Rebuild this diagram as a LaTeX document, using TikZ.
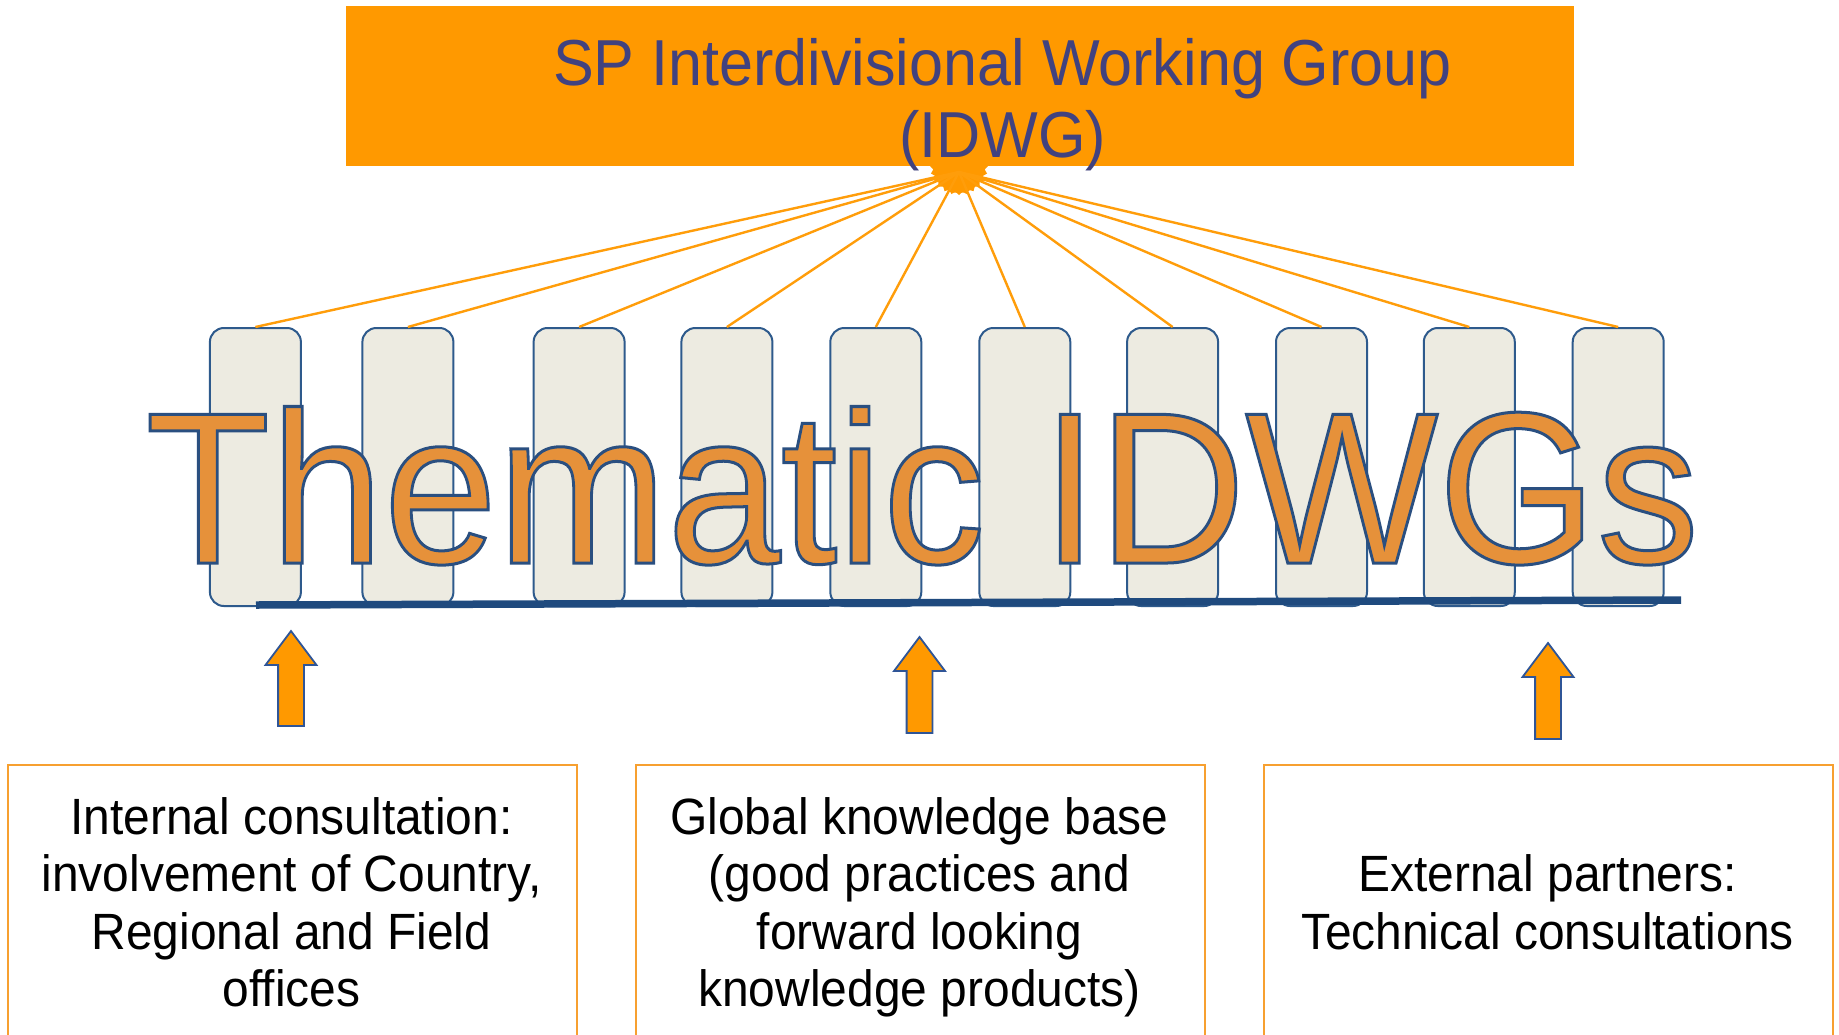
\documentclass[tikz,border=0pt]{standalone}
\usepackage{fontspec}
\setmainfont{Liberation Sans}
\usepackage{graphicx}
\usetikzlibrary{shapes.geometric}
\definecolor{boxorange}{HTML}{FF9900}
\definecolor{spokeorange}{HTML}{FF9D0A}
\definecolor{titleblue}{HTML}{41427F}
\definecolor{barfill}{HTML}{EDEBE1}
\definecolor{bardraw}{HTML}{2E5A8C}
\definecolor{thmfill}{HTML}{E6913A}
\definecolor{lineblue}{HTML}{1F4A7E}
\definecolor{arrowdraw}{HTML}{2F5597}
\definecolor{btmdraw}{HTML}{F7A030}
\newcommand\cx[1]{\scalebox{0.94}[1]{#1}}
\begin{document}
\begin{tikzpicture}[x=1pt,y=-1pt,
  topbox/.style={fill=boxorange, draw=none, inner sep=0pt},
  barbox/.style={fill=barfill, draw=bardraw, line width=2pt, rounded corners=14pt,
     minimum width=91pt, minimum height=278pt, inner sep=0pt},
  spoke/.style={draw=spokeorange, line width=2.4pt},
  blueline/.style={draw=lineblue, line width=7.5pt},
  uparrow/.style={fill=boxorange, draw=arrowdraw, line width=1.8pt, line join=miter},
  btmbox/.style={draw=btmdraw, line width=2pt, fill=white, inner sep=0pt,
     minimum width=569pt, minimum height=290pt, anchor=north west},
  btmtext/.style={anchor=base, inner sep=0pt, text=black,
     font=\fontsize{51}{57.5}\selectfont},
  titletext/.style={anchor=base, inner sep=0pt, text=titleblue,
     font=\fontsize{65}{72.5}\selectfont}
]
\useasboundingbox (0,0) rectangle (1839,1034);
\fill[white] (0,0) rectangle (1839,1034);

% top box
\node[topbox, minimum width=1228pt, minimum height=160pt, anchor=north west] (top) at (346,6) {};
\node[ellipse, fill=boxorange, minimum width=50pt, minimum height=54pt, inner sep=0pt] (blob) at (959,166) {};
\node[star, star points=24, star point ratio=1.12, minimum size=58pt, fill=boxorange, inner sep=0pt] (blobedge) at (959,166) {};

% bars
\foreach \i/\l in {1/209.9, 2/362.4, 3/533.6, 4/681.4, 5/830.3, 6/979.3, 7/1127.1, 8/1276.0, 9/1423.8, 10/1572.7}{
  \node[barbox] (b\i) at (\l+45.5,467) {};
}
\coordinate (hub) at (959,172);
\foreach \i in {1,...,10}{
  \draw[spoke] (hub) -- (b\i.north);
}

% title text
\node[titletext] (title) at (1002.5,85) {\cx{\begin{tabular}[t]{@{}c@{}}SP Interdivisional Working Group\\(IDWG)\end{tabular}}};

% big outlined text
\node[anchor=base west, inner sep=0pt] (thm) at (145.3,563) {\scalebox{0.945}[1]{\fontsize{216}{216}\selectfont\color{thmfill}\special{pdf:literal direct 2 Tr 3 w 0.165 0.31 0.50 RG}Thematic IDWGs\special{pdf:literal direct 0 Tr}}};

% blue base line
\coordinate (bl) at (256,605);
\coordinate (br) at (1681,600);
\draw[blueline] (bl) -- (br);

% bottom boxes
\node[btmbox] (box1) at (7,763.5) {};
\node[btmbox] (box2) at (634.5,763.5) {};
\node[btmbox] (box3) at (1263,763.5) {};

% up arrows
\foreach \c/\t/\b in {291/631/726, 919.5/637/733, 1548/643/739}{
  \draw[uparrow] (\c,\t) -- (\c+25.5,\t+34) -- (\c+12.9,\t+34) -- (\c+12.9,\b)
     -- (\c-12.9,\b) -- (\c-12.9,\t+34) -- (\c-25.5,\t+34) -- cycle;
}

% bottom texts
\node[btmtext] (t1) at (291.5,834) {\cx{\begin{tabular}[t]{@{}c@{}}Internal consultation:\\involvement of Country,\\Regional and Field\\offices\end{tabular}}};
\node[btmtext] (t2) at (919.5,834) {\cx{\begin{tabular}[t]{@{}c@{}}Global knowledge base\\(good practices and\\forward looking\\knowledge products)\end{tabular}}};
\node[btmtext] (t3) at (1547.5,891.5) {\cx{\begin{tabular}[t]{@{}c@{}}External partners:\\Technical consultations\end{tabular}}};
\end{tikzpicture}
\end{document}
